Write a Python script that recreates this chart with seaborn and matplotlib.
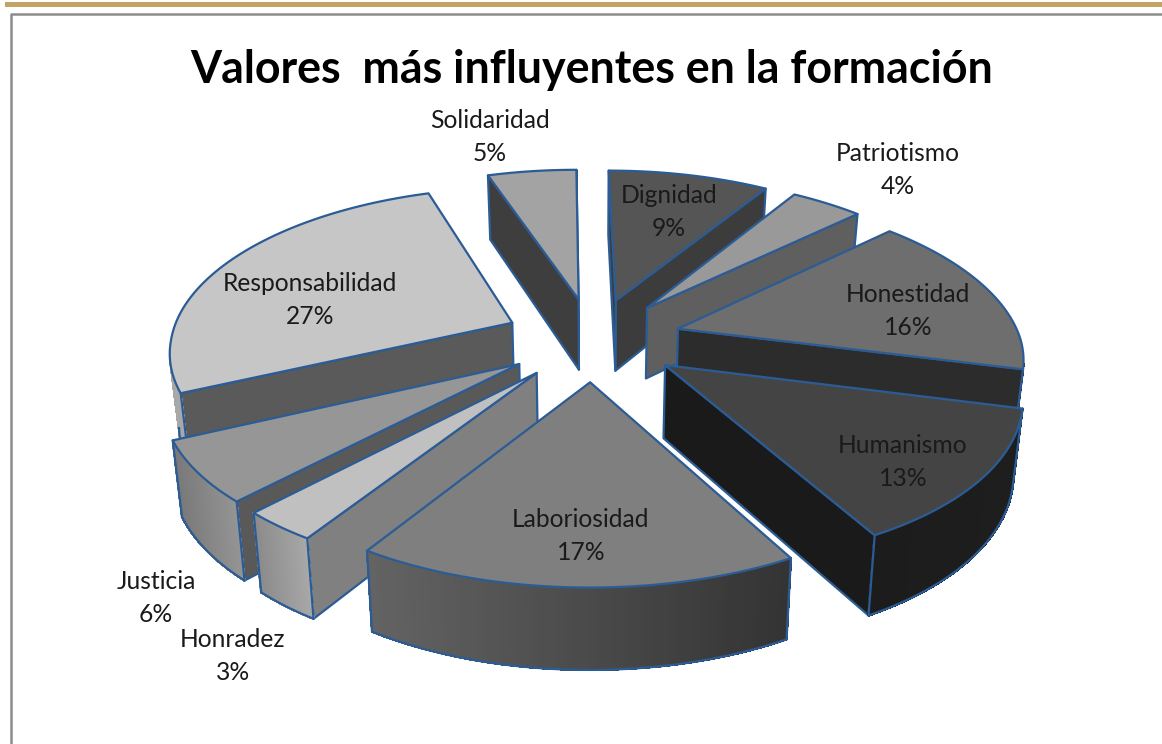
import numpy as np
import matplotlib
matplotlib.use('Agg')
import matplotlib.pyplot as plt
from matplotlib.patches import Polygon, Rectangle
import seaborn as sns

# values
names = ['Dignidad', 'Patriotismo', 'Honestidad', 'Humanismo', 'Laboriosidad',
         'Honradez', 'Justicia', 'Responsabilidad', 'Solidaridad']
percent = [9, 4, 16, 13, 17, 3, 6, 27, 5]
explode_by = [0.26] * 9

top_colors = ['#555555', '#999999', '#6e6e6e', '#444444', '#7f7f7f',
              '#c0c0c0', '#969696', '#c6c6c6', '#a3a3a3']
side_colors = ['#3c3c3c', '#5f5f5f', '#2c2c2c', '#1a1a1a', '#505050',
               '#808080', '#595959', '#5a5a5a', '#3e3e3e']
wall_left = ['#3c3c3c', '#5f5f5f', '#2c2c2c', '#1c1c1c', '#636363',
             '#8a8a8a', '#787878', '#a8a8a8', '#3e3e3e']
wall_right = ['#3c3c3c', '#5f5f5f', '#2c2c2c', '#1e1e1e', '#333333',
              '#a8a8a8', '#949494', '#b8b8b8', '#3e3e3e']
# label centres in pixels
label_x = [669, 898, 908, 903, 581, 233, 156, 310, 490]
label_y = [212, 170, 311, 462, 536, 656, 598, 300, 137]

edge_blue = '#2b5c96'
x0 = 593
camera = 6.0

sns.set_theme(style='white')
plt.rcParams['font.family'] = ['Lato', 'DejaVu Sans']

# let pie work out the angles and the exploded centres
helper_fig, helper_ax = plt.subplots()
wedges = helper_ax.pie(percent, explode=explode_by, startangle=90, counterclock=False)[0]
slices = [(w.center, w.theta1, w.theta2, w.r) for w in wedges]
plt.close(helper_fig)


# perspective from the plane of the pie to pixels
def project(u, v):
    u = np.asarray(u, float)
    v = np.asarray(v, float)
    x = x0 + 342 * u / (1 + 0.16 * v) - 4 * np.maximum(v, 0)
    return x, 339 - 160 * v / (1 + 0.15 * v)


def lower(x, v):
    # the same point on the underside of the slice
    return x0 + (x - x0) * 0.978


def drop(v):
    return 72 / (1 + 0.1 * np.asarray(v, float))


fig = plt.figure(figsize=(11.62, 7.44), dpi=100)
ax = fig.add_axes([0, 0, 1, 1])
ax.set_xlim(0, 1162)
ax.set_ylim(744, 0)
ax.axis('off')

# slide frame
ax.add_patch(Rectangle((5, 2), 1157, 5, fc='#c4a465', ec='none'))
ax.plot([10.5, 10.5, 1162], [744, 13.5, 13.5], color='#8c8c8c', lw=1.8)

order = sorted(range(len(percent)),
               key=lambda i: -(slices[i][0][1] + np.sin(np.radians((slices[i][1] + slices[i][2]) / 2))))

z = 2
for i in order:
    (cu, cv), t1, t2, r = slices[i]
    angles = np.radians(np.linspace(t1, t2, 80))
    arc_u = cu + r * np.cos(angles)
    arc_v = cv + r * np.sin(angles)
    x, y = project(arc_u, arc_v)
    xb = lower(x, arc_v)
    yb = y + drop(arc_v)
    apex_x, apex_y = project(cu, cv)
    apex_xb = lower(apex_x, cv)
    apex_yb = apex_y + drop(cv)

    # radial side faces, only those that look towards the camera
    normals = [angles[0] - np.pi / 2, angles[-1] + np.pi / 2]
    for k, n in zip([0, -1], normals):
        if np.cos(n) * (0 - cu) + np.sin(n) * (-camera - cv) <= 0:
            continue
        ax.add_patch(Polygon([(apex_x, apex_y), (x[k], y[k]), (xb[k], yb[k]), (apex_xb, apex_yb)],
                             closed=True, fc=side_colors[i], ec=edge_blue, lw=1.6,
                             zorder=z, joinstyle='round'))
        z += 1

    # outer wall, thin strips that carry the gradient (only the part facing us)
    mid = (angles[:-1] + angles[1:]) / 2
    facing = np.cos(mid) * (0 - arc_u[:-1]) + np.sin(mid) * (-camera - arc_v[:-1]) > 0
    shades = sns.blend_palette([wall_left[i], wall_right[i]], 60)
    left, right = x.min(), x.max()
    for j in np.flatnonzero(facing):
        pos = ((x[j] + x[j + 1]) / 2 - left) / max(right - left, 1)
        shade = shades[int(pos * 59)]
        ax.add_patch(Polygon([(x[j], y[j]), (x[j + 1], y[j + 1]), (xb[j + 1], yb[j + 1]), (xb[j], yb[j])],
                             closed=True, fc=shade, ec=shade, lw=1.0, antialiased=False, zorder=z))
    z += 1
    if facing.any():
        idx = np.r_[np.flatnonzero(facing), np.flatnonzero(facing)[-1] + 1]
        ax.plot(xb[idx], yb[idx], color=edge_blue, lw=1.6, zorder=z)
        for k in (idx[0], idx[-1]):
            if k in (0, len(x) - 1):
                ax.plot([x[k], xb[k]], [y[k], yb[k]], color=edge_blue, lw=1.6, zorder=z)
        z += 1

    # top face
    ax.add_patch(Polygon(np.column_stack([np.r_[apex_x, x], np.r_[apex_y, y]]), closed=True,
                         fc=top_colors[i], ec=edge_blue, lw=1.6, zorder=z, joinstyle='round'))
    z += 1

for name, p, lx, ly in zip(names, percent, label_x, label_y):
    ax.text(lx, ly, f'{name}\n{p}%', ha='center', va='center', fontsize=17.7,
            color='#1a1a1a', linespacing=1.5, zorder=z)

ax.text(592, 70, 'Valores  más influyentes en la formación', ha='center', va='center',
        fontsize=32.2, fontweight='bold', color='black', zorder=z)

fig.savefig('out.png', dpi=100)
